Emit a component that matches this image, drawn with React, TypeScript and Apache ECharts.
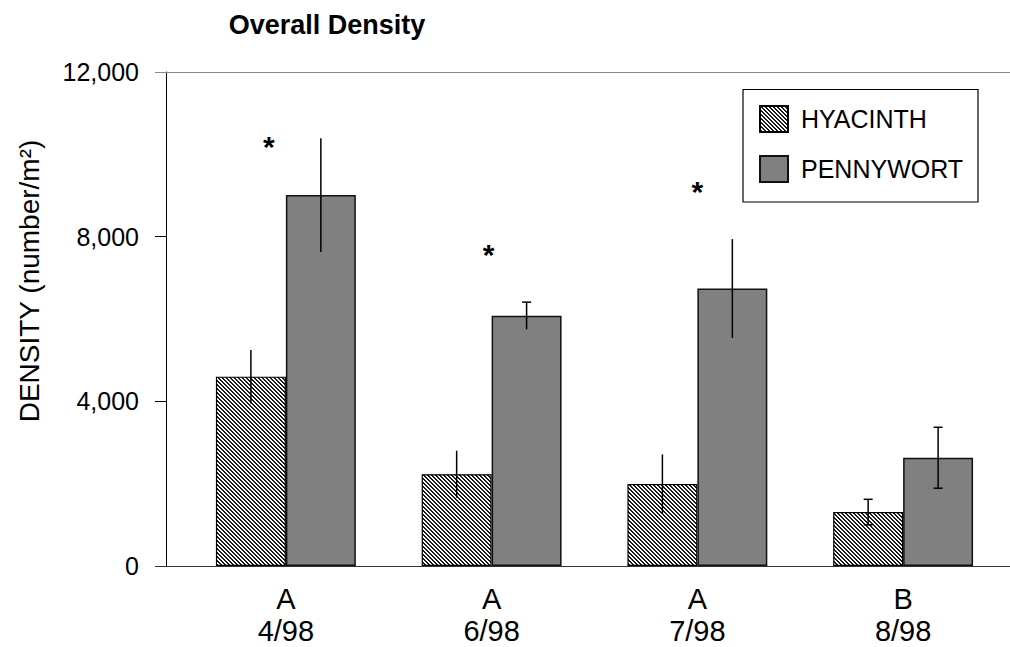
import React, { useEffect, useRef } from "react";
import * as echarts from "echarts";

const categories = ["A\n4/98", "A\n6/98", "A\n7/98", "B\n8/98"];
const seriesNames = ["HYACINTH", "PENNYWORT"];
const hyacinth = [4600, 2230, 1990, 1310];
const hyacinthErr = [650, 570, 720, 310];
const hyacinthCaps = [0, 0, 0, 2]; // 0 none, 1 top only, 2 both
const pennywort = [9010, 6080, 6740, 2630];
const pennywortErr = [1380, 330, 1200, 740];
const pennywortCaps = [0, 1, 0, 2];
const starValues = [10372, 7725, 9279];
const starDx = [-17, -3, 0];
const yMin = 0;
const yMax = 12000;
const yInterval = 4000;

const FONT = "'Liberation Sans', Arial, Helvetica, sans-serif";

function makeHatch(): string {
  const c = document.createElement("canvas");
  c.width = 4;
  c.height = 4;
  const ctx = c.getContext("2d")!;
  ctx.fillStyle = "#ffffff";
  ctx.fillRect(0, 0, 4, 4);
  ctx.fillStyle = "#1a1a1a";
  for (let y = 0; y < 4; y++)
    for (let x = 0; x < 4; x++)
      if ((((x - y) % 4) + 4) % 4 < 2) ctx.fillRect(x, y, 1, 1);
  return c.toDataURL();
}

function errSeries(name: string, vals: number[], errs: number[], caps: number[], side: number) {
  return {
    type: "custom",
    name,
    silent: true,
    z: 10,
    data: vals.map((v, i) => [i, v - errs[i], v + errs[i], caps[i]]),
    encode: { x: 0, y: [1, 2] },
    renderItem: (_params: any, api: any) => {
      const idx = api.value(0);
      const lo = api.coord([idx, api.value(1)]);
      const hi = api.coord([idx, api.value(2)]);
      const band = api.size([1, 0])[0];
      const x = lo[0] + side * band * 0.17;
      const cap = api.value(3);
      const st = { stroke: "#000", lineWidth: 1.5 };
      const children: any[] = [
        { type: "line", shape: { x1: x, y1: hi[1], x2: x, y2: lo[1] }, style: st },
      ];
      const w = 4.5;
      if (cap >= 1)
        children.push({ type: "line", shape: { x1: x - w, y1: hi[1], x2: x + w, y2: hi[1] }, style: st });
      if (cap >= 2)
        children.push({ type: "line", shape: { x1: x - w, y1: lo[1], x2: x + w, y2: lo[1] }, style: st });
      return { type: "group", children };
    },
  };
}

export default function App() {
  const ref = useRef<HTMLDivElement>(null);
  useEffect(() => {
    if (!ref.current) return;
    const chart = echarts.init(ref.current, null, { renderer: "svg" });
    const hatch = makeHatch();
    const option: any = {
      animation: false,
      backgroundColor: "#ffffff",
      textStyle: { fontFamily: FONT },
      grid: { left: 183, right: 4, top: 72, bottom: 81, containLabel: false },
      legend: {
        data: seriesNames,
        orient: "vertical",
        left: 759,
        top: 105,
        padding: 0,
        itemWidth: 28,
        itemHeight: 26,
        itemGap: 22,
        icon: "rect",
        textStyle: { fontSize: 25, color: "#000", fontFamily: FONT, padding: [0, 0, 0, 8] },
        selectedMode: false,
      },
      xAxis: {
        type: "category",
        data: categories,
        axisLine: { show: false },
        axisTick: { show: false },
        axisLabel: {
          fontSize: 29,
          lineHeight: 32,
          margin: 17,
          color: "#000",
          fontFamily: FONT,
        },
      },
      yAxis: {
        type: "value",
        min: yMin,
        max: yMax,
        interval: yInterval,
        offset: 17,
        axisLine: { show: true, lineStyle: { color: "#000", width: 1 } },
        axisTick: { show: true, length: 11, lineStyle: { color: "#000" } },
        splitLine: { show: false },
        axisLabel: { fontSize: 25, color: "#000", margin: 27, fontFamily: FONT },
      },
      series: [
        {
          type: "bar",
          name: seriesNames[0],
          data: hyacinth,
          barWidth: "34%",
          barGap: "0%",
          itemStyle: {
            color: { image: hatch, repeat: "repeat", imageWidth: 4, imageHeight: 4 },
            borderColor: "#000",
            borderWidth: 1.2,
          },
        },
        {
          type: "bar",
          name: seriesNames[1],
          data: pennywort,
          barWidth: "34%",
          barGap: "0%",
          itemStyle: { color: "#808080", borderColor: "#111", borderWidth: 1.5 },
        },
        errSeries("err-h", hyacinth, hyacinthErr, hyacinthCaps, -1),
        errSeries("err-p", pennywort, pennywortErr, pennywortCaps, 1),
        {
          type: "custom",
          name: "stars",
          silent: true,
          z: 11,
          data: starValues.map((v, i) => [i, v, starDx[i]]),
          encode: { x: 0, y: 1 },
          renderItem: (_p: any, api: any) => {
            const pt = api.coord([api.value(0), api.value(1)]);
            return {
              type: "text",
              x: pt[0] + api.value(2),
              y: pt[1] + 7,
              style: {
                text: "*",
                font: `bold 30px ${FONT}`,
                fill: "#000",
                textAlign: "center",
                textVerticalAlign: "middle",
              },
            };
          },
        },
      ],
      graphic: [
        {
          type: "line",
          shape: { x1: 155, y1: 72.5, x2: 1010, y2: 72.5 },
          style: { stroke: "#888", lineWidth: 1 },
          z: 1,
        },
        {
          type: "line",
          shape: { x1: 155, y1: 566.5, x2: 1010, y2: 566.5 },
          style: { stroke: "#333", lineWidth: 1.2 },
          z: 1,
        },
        {
          type: "rect",
          shape: { x: 743, y: 89.5, width: 235, height: 112.5 },
          style: { fill: "none", stroke: "#000", lineWidth: 1.2 },
          z: 1,
        },
        {
          type: "text",
          x: 327,
          y: 25,
          style: {
            text: "Overall Density",
            font: `bold 27px ${FONT}`,
            fill: "#000",
            textAlign: "center",
            textVerticalAlign: "middle",
          },
        },
        {
          type: "text",
          x: 29,
          y: 281,
          rotation: Math.PI / 2,
          style: {
            text: "DENSITY (number/m²)",
            font: `28px ${FONT}`,
            fill: "#000",
            textAlign: "center",
            textVerticalAlign: "middle",
          },
        },
      ],
    };
    chart.setOption(option);
    return () => chart.dispose();
  }, []);
  return (
    <div
      ref={ref}
      style={{ position: "fixed", left: 0, top: 0, width: 1010, height: 647, background: "#fff" }}
    />
  );
}
